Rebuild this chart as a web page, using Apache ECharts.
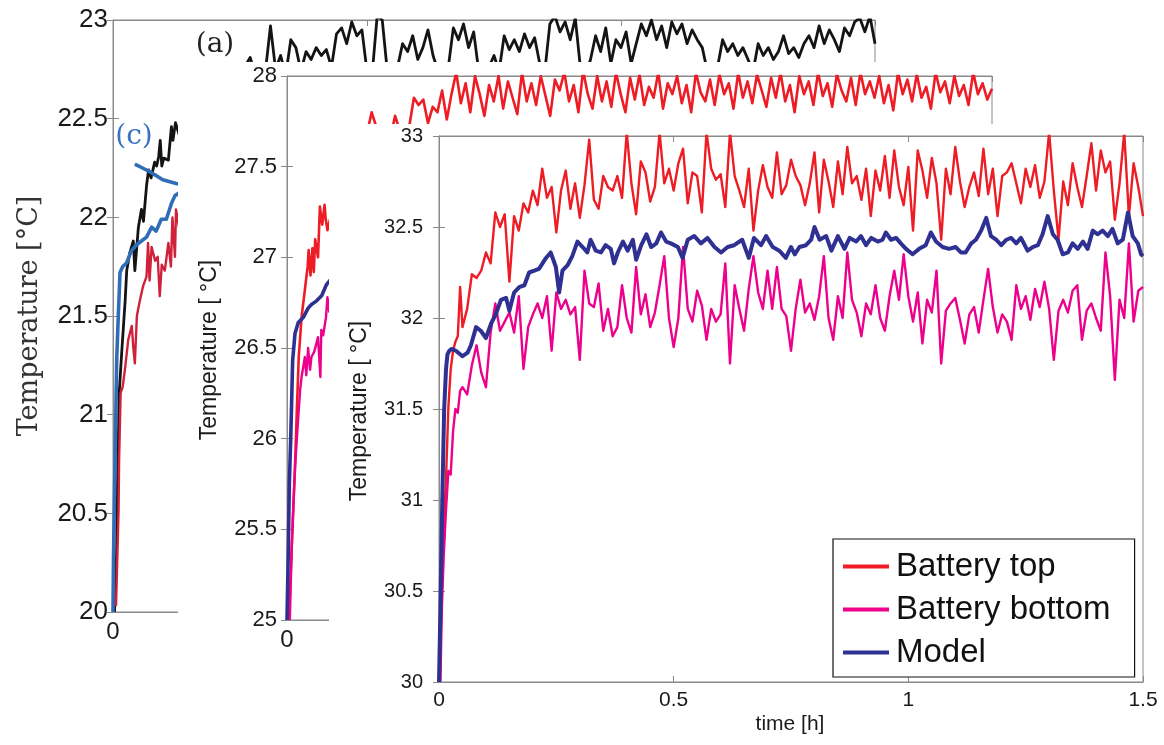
<!DOCTYPE html>
<html><head><meta charset="utf-8">
<script src="https://cdn.jsdelivr.net/npm/echarts@6/dist/echarts.min.js"></script>
<style>html,body{margin:0;padding:0;background:#fff}#c{width:1164px;height:745px}</style>
</head><body><div id="c"></div>
<script>
// ---------- Panel (c) (back, 20–23 °C) ----------
const p1BlackEarly = [[0.003,20.0],[0.007,20.3],[0.0085,20.6],[0.012,21.1],[0.017,21.31],[0.019,21.3],[0.024,21.58],[0.027,21.73],[0.033,21.82],[0.04,21.88],[0.043,21.73],[0.05,21.95],[0.056,22.04],[0.06,21.98],[0.066,22.16],[0.07,22.24],[0.075,22.2],[0.082,22.28],[0.086,22.26],[0.09,22.31],[0.093,22.39],[0.096,22.26],[0.1,22.3],[0.109,22.29],[0.115,22.46],[0.118,22.39],[0.123,22.48],[0.13,22.42],[0.15,22.5],[0.17,22.55],[0.2,22.6],[0.23,22.68],[0.25,22.72]];
const p1BlackStripStart = 0.27;
const p1BlackStrip = [22.81,22.72,22.70,22.74,22.97,22.75,22.82,22.72,22.90,22.86,
 22.74,22.84,22.80,22.86,22.82,22.85,22.76,22.93,22.96,22.88,
 22.99,22.92,22.95,22.74,22.72,23.02,23.00,22.74,22.70,22.76,
 22.88,22.84,22.92,22.80,22.86,22.95,22.82,22.74,22.72,22.76,
 22.96,22.90,22.98,22.86,22.94,22.74,22.70,22.76,22.82,22.74,
 22.92,22.85,22.90,22.84,22.93,22.86,22.91,22.78,22.74,22.98,
 23.02,22.94,22.99,22.90,23.01,22.76,22.72,22.80,22.92,22.84,
 22.96,22.78,22.90,22.86,22.94,22.78,22.88,22.98,22.92,23.00,
 22.90,22.97,22.86,22.99,22.93,22.98,22.88,22.95,22.90,22.86,
 22.74,22.72,22.76,22.90,22.84,22.88,22.82,22.86,22.80,22.74,
 22.88,22.82,22.86,22.80,22.84,22.92,22.83,22.86,22.81,22.88,
 22.92,22.86,22.97,22.88,22.95,22.90,22.84,22.96,22.92,22.99,
 23.01,22.94,23.02,22.88];
const p1Crimson = [[0.006,20.03],[0.011,20.52],[0.012,20.77],[0.015,21.11],[0.019,21.14],[0.024,21.24],[0.03,21.38],[0.037,21.45],[0.04,21.34],[0.043,21.26],[0.047,21.5],[0.053,21.58],[0.059,21.65],[0.066,21.7],[0.069,21.87],[0.072,21.68],[0.076,21.85],[0.083,21.78],[0.088,21.8],[0.092,21.6],[0.096,21.76],[0.102,21.73],[0.109,21.87],[0.114,21.75],[0.117,22.0],[0.122,21.8],[0.124,22.04],[0.13,21.95],[0.14,22.0]];
const p1Blue = [[0,20.0],[0.001,20.28],[0.004,20.77],[0.0073,21.28],[0.0104,21.5],[0.0138,21.72],[0.019,21.75],[0.027,21.77],[0.036,21.83],[0.046,21.86],[0.056,21.88],[0.066,21.9],[0.076,21.95],[0.085,21.93],[0.095,21.99],[0.105,21.99],[0.115,22.07],[0.122,22.11],[0.14,22.14]];
const p1Note = [[0.043,22.27],[0.058,22.25],[0.073,22.23],[0.086,22.21],[0.098,22.19],[0.112,22.18],[0.126,22.17],[0.14,22.165]];

// ---------- Panel (b) (middle, 25–28 °C) ----------
const p2RedEarly = [[0.004,25.0],[0.01,25.4],[0.017,25.84],[0.021,26.16],[0.025,26.45],[0.031,26.67],[0.038,26.82],[0.044,26.95],[0.046,27.04],[0.05,26.9],[0.054,27.05],[0.057,26.92],[0.06,27.1],[0.066,27.0],[0.07,27.28],[0.075,27.18],[0.08,27.29],[0.082,27.22],[0.086,27.15],[0.1,27.3],[0.12,27.45],[0.14,27.55],[0.16,27.62],[0.17,27.68]];
const p2RedStripStart = 0.18;
const p2RedStrip = [27.80,27.72,27.68,27.70,27.66,27.78,27.70,27.64,27.72,27.88,
 27.84,27.87,27.74,27.83,27.80,27.92,27.76,27.90,28.02,27.85,
 27.96,27.80,28.00,27.90,27.78,27.95,27.86,28.00,27.82,27.97,
 27.88,27.79,28.02,27.86,27.96,27.84,28.00,27.89,27.78,27.98,
 27.92,28.02,27.86,27.95,27.80,28.03,27.90,27.82,28.00,27.86,
 27.97,27.83,28.02,27.90,27.80,27.99,27.87,28.01,27.84,27.94,
 27.88,28.02,27.82,27.96,27.90,28.00,27.85,27.95,27.80,28.02,
 27.91,27.86,27.98,27.84,28.01,27.90,27.96,27.82,28.02,27.88,
 27.97,27.85,28.01,27.92,27.83,27.99,27.88,28.02,27.86,27.95,
 27.80,28.00,27.90,27.97,27.84,28.02,27.89,27.96,27.83,28.01,
 27.92,27.86,27.99,27.84,28.02,27.90,27.97,27.88,28.00,27.85,
 27.95,27.81,28.02,27.90,27.98,27.86,28.01,27.88,27.94,27.82,
 28.02,27.91,27.97,27.85,28.00,27.89,27.95,27.84,28.02,27.90,
 27.96,27.87,27.93];
const p2Pink = [[0.006,25.0],[0.01,25.39],[0.014,25.66],[0.017,25.84],[0.024,26.12],[0.028,26.27],[0.031,26.34],[0.038,26.45],[0.041,26.35],[0.045,26.5],[0.049,26.38],[0.052,26.45],[0.058,26.48],[0.066,26.56],[0.071,26.34],[0.073,26.6],[0.077,26.57],[0.083,26.67],[0.086,26.78],[0.09,26.7],[0.1,26.8]];
const p2Model = [[0,25.0],[0.0028,25.39],[0.005,25.75],[0.008,26.01],[0.012,26.43],[0.017,26.58],[0.024,26.64],[0.035,26.67],[0.045,26.72],[0.052,26.74],[0.063,26.76],[0.074,26.79],[0.084,26.85],[0.1,26.9]];

// ---------- Main panel (front, 30–33 °C) ----------
const seriesNames = ['Battery top', 'Battery bottom', 'Model'];
const topEarly = [[0.002,30.0],[0.005,30.45],[0.01,30.84],[0.015,31.12],[0.02,31.51],[0.025,31.72],[0.03,31.82],[0.035,31.87],[0.04,31.9],[0.045,32.17]];
const bottomEarly = [[0.003,30.0],[0.006,30.4],[0.01,30.69],[0.015,30.95],[0.02,31.16],[0.025,31.14],[0.03,31.38],[0.035,31.5],[0.04,31.48],[0.045,31.6]];
const mainStart = 0.05, mainStep = 0.01;
const topTemp = [31.95,32.05,32.24,32.22,32.26,
 32.36,32.30,32.58,32.50,32.57,32.20,32.56,32.48,32.63,32.58,
 32.70,32.62,32.82,32.66,32.72,32.47,32.70,32.81,32.60,32.74,
 32.55,32.73,32.98,32.65,32.60,32.78,32.72,32.70,32.78,32.66,
 33.02,32.74,32.57,32.86,32.80,32.64,32.72,33.02,32.74,32.82,
 32.70,32.85,32.93,32.63,32.80,32.78,32.58,33.02,32.82,32.76,
 32.79,32.61,33.02,32.78,32.70,32.61,32.82,32.48,32.70,32.84,
 32.72,32.66,32.91,32.68,32.73,32.87,32.78,32.73,32.62,32.74,
 32.91,32.58,32.87,32.75,32.61,32.86,32.68,32.94,32.74,32.78,
 32.65,32.82,32.56,32.81,32.70,32.89,32.66,32.92,32.72,32.62,
 32.83,32.48,32.92,32.81,32.66,32.88,32.74,32.43,32.82,32.68,
 32.94,32.75,32.61,32.72,32.80,32.67,32.93,32.68,32.82,32.56,
 32.78,32.80,32.85,32.74,32.63,32.82,32.72,32.84,32.66,32.75,
 33.02,32.70,32.43,32.75,32.62,32.85,32.72,32.61,32.78,32.96,
 32.70,32.92,32.80,32.86,32.54,32.74,33.02,32.56,32.85,32.72,32.56];
const bottomTemp = [31.62,31.58,31.74,31.85,31.70,
 31.62,31.92,32.08,31.93,31.98,32.03,31.92,32.12,31.72,31.95,
 32.02,32.08,32.00,32.12,31.82,32.14,32.05,32.10,32.02,32.06,
 31.77,32.26,32.08,32.06,32.19,31.93,32.05,31.90,31.95,32.18,
 32.00,31.92,32.28,32.02,32.13,31.95,32.03,32.18,32.34,32.00,
 31.84,32.00,32.39,32.05,31.98,32.15,32.07,31.88,32.05,31.98,
 32.02,32.30,31.75,32.18,32.05,31.93,32.16,32.34,32.14,32.05,
 32.26,32.05,32.28,32.05,32.01,31.82,32.05,32.21,32.03,32.08,
 31.99,32.12,32.34,32.00,31.88,32.12,32.00,32.36,32.10,32.03,
 31.90,32.08,32.02,32.18,32.00,31.93,32.12,32.26,32.10,32.35,
 32.12,31.98,32.14,31.86,32.10,32.03,32.26,31.75,32.04,32.08,
 32.11,31.99,31.86,32.02,32.06,31.92,32.10,32.27,32.06,31.92,
 32.02,31.98,31.88,32.18,32.05,32.12,31.99,32.16,32.06,32.20,
 32.05,31.77,32.04,32.10,32.03,32.15,32.18,31.88,32.04,32.08,
 32.00,31.93,32.36,32.12,31.66,32.10,32.00,32.41,31.98,32.15,32.17];
const modelPoints = [[0,30.0],[0.003,30.4],[0.007,31.0],[0.011,31.5],[0.015,31.72],[0.018,31.8],[0.022,31.82],[0.027,31.83],[0.036,31.82],[0.05,31.79],
 [0.061,31.81],[0.068,31.85],[0.079,31.95],[0.089,31.93],[0.1,31.89],[0.111,31.97],[0.121,32.02],[0.132,32.1],[0.143,32.11],[0.15,32.04],
 [0.16,32.14],[0.171,32.17],[0.182,32.18],[0.192,32.25],[0.203,32.26],[0.213,32.27],[0.228,32.33],[0.238,32.36],[0.249,32.28],[0.256,32.14],
 [0.263,32.26],[0.274,32.29],[0.284,32.34],[0.295,32.42],[0.306,32.39],[0.316,32.36],[0.323,32.43],[0.334,32.37],[0.345,32.36],[0.355,32.4],
 [0.366,32.38],[0.373,32.3],[0.381,32.36],[0.392,32.42],[0.402,32.37],[0.413,32.43],[0.42,32.32],[0.431,32.4],[0.442,32.46],[0.452,32.39],
 [0.463,32.41],[0.473,32.47],[0.484,32.42],[0.494,32.41],[0.509,32.39],[0.519,32.33],[0.53,32.43],[0.544,32.45],[0.558,32.41],[0.572,32.44],
 [0.587,32.39],[0.601,32.36],[0.615,32.39],[0.629,32.4],[0.646,32.43],[0.66,32.33],[0.671,32.44],[0.686,32.4],[0.697,32.45],[0.711,32.39],
 [0.725,32.37],[0.739,32.33],[0.75,32.39],[0.758,32.35],[0.768,32.39],[0.782,32.4],[0.793,32.43],[0.8,32.5],[0.811,32.43],[0.825,32.45],
 [0.836,32.37],[0.85,32.45],[0.864,32.38],[0.875,32.44],[0.889,32.42],[0.899,32.45],[0.91,32.4],[0.921,32.44],[0.935,32.42],[0.945,32.43],
 [0.952,32.47],[0.963,32.43],[0.974,32.44],[0.984,32.41],[0.995,32.38],[1.009,32.35],[1.023,32.38],[1.037,32.4],[1.048,32.47],[1.059,32.42],
 [1.073,32.39],[1.087,32.38],[1.101,32.39],[1.112,32.36],[1.122,32.36],[1.134,32.41],[1.144,32.43],[1.155,32.48],[1.166,32.55],[1.176,32.45],
 [1.187,32.43],[1.198,32.4],[1.209,32.43],[1.219,32.44],[1.23,32.41],[1.24,32.44],[1.254,32.37],[1.265,32.39],[1.276,32.4],[1.286,32.46],
 [1.297,32.56],[1.308,32.46],[1.318,32.43],[1.329,32.35],[1.34,32.36],[1.35,32.41],[1.361,32.38],[1.372,32.42],[1.382,32.38],[1.393,32.48],
 [1.403,32.46],[1.414,32.48],[1.425,32.45],[1.435,32.49],[1.446,32.41],[1.457,32.43],[1.468,32.58],[1.478,32.45],[1.489,32.41],[1.496,32.35],[1.5,32.34]];

// Tick values
const xTicks = {min: 0, max: 1.5, interval: 0.5};
const yRanges = [{min: 20, max: 23}, {min: 25, max: 28}, {min: 30, max: 33}];

// ---------- helpers ----------
function sampled(t0, dt, vals) { return vals.map((v, i) => [Math.round((t0 + i * dt) * 1000) / 1000, v]); }
const FONT = '"Liberation Sans", Arial, sans-serif';
const SERIF = '"DejaVu Serif", "Liberation Serif", serif';
const AX = '#8a8a8a';

const grids = [
  {left: 113, top: 20, width: 762, height: 592},
  {left: 287, top: 76, width: 705, height: 544},
  {left: 439, top: 136, width: 704, height: 546}
];
const zs = [2, 12, 22];
const tickFont = [26, 22, 20];
const xFont = [24, 24, 21];
const yMargin = [5, 10, 16];

const xAxis = [], yAxis = [];
grids.forEach((g, i) => {
  xAxis.push({type: 'value', gridIndex: i, position: 'bottom', min: xTicks.min, max: xTicks.max, interval: xTicks.interval, z: zs[i],
    axisLine: {show: true, lineStyle: {color: AX, width: 1}}, axisTick: {show: true, inside: true, length: 6, lineStyle: {color: AX}},
    axisLabel: {show: true, margin: 8, fontSize: xFont[i], color: '#1a1a1a', fontFamily: FONT, formatter: v => String(v)}, splitLine: {show: false}});
  xAxis.push({type: 'value', gridIndex: i, position: 'top', min: xTicks.min, max: xTicks.max, interval: xTicks.interval, z: zs[i],
    axisLine: {show: true, lineStyle: {color: AX, width: 1}}, axisTick: {show: true, inside: true, length: 6, lineStyle: {color: AX}},
    axisLabel: {show: false}, splitLine: {show: false}});
  yAxis.push({type: 'value', gridIndex: i, position: 'left', min: yRanges[i].min, max: yRanges[i].max, interval: 0.5, z: zs[i],
    axisLine: {show: true, lineStyle: {color: AX, width: 1}}, axisTick: {show: true, inside: true, length: 6, lineStyle: {color: AX}},
    axisLabel: {show: true, margin: yMargin[i], fontSize: tickFont[i], color: '#1a1a1a', fontFamily: FONT, formatter: v => String(v)}, splitLine: {show: false}});
  yAxis.push({type: 'value', gridIndex: i, position: 'right', min: yRanges[i].min, max: yRanges[i].max, interval: 0.5, z: zs[i],
    axisLine: {show: true, lineStyle: {color: AX, width: 1}}, axisTick: {show: true, inside: true, length: 6, lineStyle: {color: AX}},
    axisLabel: {show: false}, splitLine: {show: false}});
});

function line(name, data, color, width, panel) {
  return {type: 'line', name, data, xAxisIndex: panel * 2, yAxisIndex: panel * 2, symbol: 'none', showSymbol: false,
    lineStyle: {color, width, join: 'round'}, itemStyle: {color}, z: zs[panel] + 1, silent: true, clip: true, animation: false};
}

const series = [
  line('c black', p1BlackEarly.concat(sampled(p1BlackStripStart, 0.01, p1BlackStrip)), '#141414', 2.8, 0),
  line('c crimson', p1Crimson, '#d0213a', 2.4, 0),
  line('c blue', p1Blue, '#2f6db8', 3.6, 0),
  line('c note', p1Note, '#2f6db8', 3.6, 0),
  line('b red', p2RedEarly.concat(sampled(p2RedStripStart, 0.01, p2RedStrip)), '#ee1c24', 2.6, 1),
  line('b pink', p2Pink, '#ec008c', 2.4, 1),
  line('b model', p2Model, '#2e3192', 3.6, 1),
  line(seriesNames[0], topEarly.concat(sampled(mainStart, mainStep, topTemp)), '#ee1c24', 2.4, 2),
  line(seriesNames[1], bottomEarly.concat(sampled(mainStart, mainStep, bottomTemp)), '#ec008c', 2.4, 2),
  line(seriesNames[2], modelPoints, '#2e3192', 4, 2)
];

const chart = echarts.init(document.getElementById('c'), null, {renderer: 'canvas'});
chart.setOption({
  animation: false,
  backgroundColor: '#fff',
  grid: grids.map((g, i) => Object.assign({show: true, backgroundColor: '#fff', borderColor: AX, borderWidth: 1, z: zs[i] - 1, containLabel: false}, g)),
  xAxis, yAxis, series,
  legend: {
    data: seriesNames.map(n => ({name: n, icon: 'rect'})), orient: 'vertical', left: 833, top: 539, padding: [11, 24, 8, 10], itemGap: 10,
    itemWidth: 46, itemHeight: 4, backgroundColor: '#fff', borderColor: '#111', borderWidth: 1.2,
    textStyle: {fontSize: 33, color: '#111', fontFamily: FONT, padding: [0, 0, 0, 2]}, z: 30, selectedMode: false
  },
  graphic: [
    {type: 'rect', z: 10, shape: {x: 178, y: 62, width: 986, height: 683}, style: {fill: '#fff'}, silent: true},
    {type: 'rect', z: 20, shape: {x: 329, y: 124, width: 835, height: 621}, style: {fill: '#fff'}, silent: true},
    {type: 'text', z: 5, x: 215, y: 45, style: {text: '(a)', font: '28px ' + SERIF, fill: '#222', align: 'center', verticalAlign: 'middle', textAlign: 'center', textVerticalAlign: 'middle'}},
    {type: 'text', z: 5, x: 134, y: 137, style: {text: '(c)', font: '28px ' + SERIF, fill: '#3a72c0', align: 'center', verticalAlign: 'middle', textAlign: 'center', textVerticalAlign: 'middle'}},
    {type: 'text', z: 5, x: 30, y: 316, rotation: Math.PI / 2, style: {text: 'Temperature [°C]', font: '27px ' + SERIF, fill: '#333', align: 'center', verticalAlign: 'middle', textAlign: 'center', textVerticalAlign: 'middle'}},
    {type: 'text', z: 15, x: 210, y: 350, rotation: Math.PI / 2, style: {text: 'Temperature [ °C]', font: '23px ' + FONT, fill: '#1a1a1a', align: 'center', verticalAlign: 'middle', textAlign: 'center', textVerticalAlign: 'middle'}},
    {type: 'text', z: 25, x: 360, y: 411, rotation: Math.PI / 2, style: {text: 'Temperature [ °C]', font: '23px ' + FONT, fill: '#1a1a1a', align: 'center', verticalAlign: 'middle', textAlign: 'center', textVerticalAlign: 'middle'}},
    {type: 'text', z: 25, x: 790, y: 724, style: {text: 'time [h]', font: '21px ' + FONT, fill: '#1a1a1a', align: 'center', verticalAlign: 'middle', textAlign: 'center', textVerticalAlign: 'middle'}}
  ]
});
</script>
</body></html>
